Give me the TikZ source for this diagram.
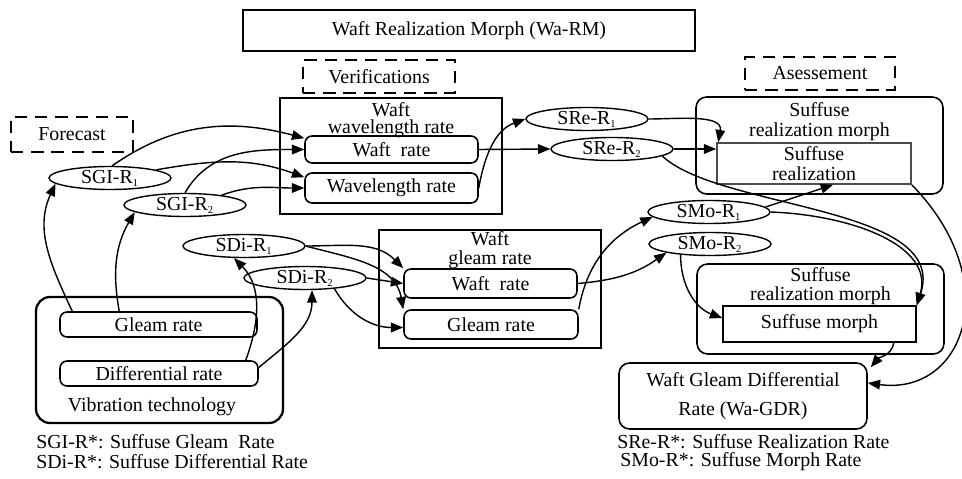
\documentclass[tikz,border=0pt]{standalone}
\usepackage{fontspec}
\setmainfont{Liberation Serif}
\usetikzlibrary{shapes.geometric,arrows.meta,positioning,calc}

\newcommand{\rsub}[1]{\textsubscript{\fontsize{6}{6}\selectfont #1}}

\begin{document}
\begin{tikzpicture}[
    x=0.02cm, y=0.02cm,
    font=\fontsize{11.3}{13}\selectfont,
    box/.style={draw, line width=0.9pt, inner sep=0pt, align=center},
    rbox/.style={box, rounded corners=4pt},
    dbox/.style={draw, line width=1pt, dash pattern=on 7pt off 4.5pt, inner sep=0pt},
    ell/.style={draw, ellipse, line width=0.8pt, inner sep=0pt, minimum width=2.44cm, minimum height=0.46cm},
    ttl/.style={align=center, inner sep=0pt, font=\fontsize{11.3}{10}\selectfont},
    arrow/.style={-{Triangle[length=7pt,width=5.5pt]}, line width=0.8pt}
]
  \useasboundingbox (0,0) rectangle (962,-479);

  % =========================================================================
  % TITLE AND PHASES
  % =========================================================================
  \node[box, minimum width=9.04cm, minimum height=0.82cm] (n_wrm) at (469,-30.5) {Waft Realization Morph (Wa-RM)};
  \node[dbox, minimum width=3.04cm, minimum height=0.66cm] (n_ver) at (379,-76.5) {Verifications};
  \node[dbox, minimum width=2.44cm, minimum height=0.7cm] (n_for) at (72,-134.5) {Forecast};
  \node[dbox, minimum width=3.0cm, minimum height=0.66cm] (n_ase) at (820,-73.5) {Asessement};

  % =========================================================================
  % VIBRATION TECHNOLOGY
  % =========================================================================
  \node[rbox, rounded corners=8pt, line width=1.3pt, minimum width=4.94cm, minimum height=2.52cm] (p_vib) at (159.5,-360) {};
  \node[rbox, minimum width=3.94cm, minimum height=0.5cm] (n_vgr) at (158.5,-324.5) {Gleam rate};
  \node[rbox, minimum width=3.96cm, minimum height=0.5cm] (n_vdr) at (159,-373.5) {Differential rate};
  \node[inner sep=0pt] (t_vib) at (152,-407) {Vibration technology};

  % =========================================================================
  % WAFT BOXES
  % =========================================================================
  \node[box, minimum width=4.44cm, minimum height=2.32cm] (p_wwr) at (391,-156) {};
  \node[ttl] (t_wwr) at (391,-120) {Waft\\wavelength rate};
  \node[rbox, minimum width=3.46cm, minimum height=0.54cm] (n_wwr_w) at (391.5,-149.5) {Waft\ \ rate};
  \node[rbox, minimum width=3.46cm, minimum height=0.6cm] (n_wwr_l) at (391.5,-188) {Wavelength rate};

  \node[box, minimum width=4.44cm, minimum height=2.36cm] (p_wgr) at (490,-289) {};
  \node[ttl, font=\fontsize{11.3}{11}\selectfont] (t_wgr) at (490,-250) {Waft\\gleam rate};
  \node[rbox, minimum width=3.46cm, minimum height=0.58cm] (n_wgr_w) at (490.5,-283.5) {Waft\ \ rate};
  \node[rbox, minimum width=3.48cm, minimum height=0.58cm] (n_wgr_g) at (491,-324.5) {Gleam rate};

  % =========================================================================
  % SUFFUSE BOXES
  % =========================================================================
  \node[rbox, rounded corners=6pt, minimum width=4.94cm, minimum height=1.94cm] (p_srm1) at (819.5,-145.5) {};
  \node[ttl, font=\fontsize{11.3}{11.5}\selectfont] (t_srm1) at (819.5,-122) {Suffuse\\realization morph};
  \node[box, draw=gray!60!black, minimum width=3.88cm, minimum height=0.82cm, font=\fontsize{11.3}{11.5}\selectfont] (n_sr) at (814,-163.5) {Suffuse\\realization};

  \node[rbox, rounded corners=6pt, minimum width=4.94cm, minimum height=1.8cm] (p_srm2) at (820.5,-309) {};
  \node[ttl, font=\fontsize{11.3}{10.5}\selectfont] (t_srm2) at (820.5,-286) {Suffuse\\realization morph};
  \node[box, minimum width=3.86cm, minimum height=0.72cm] (n_sm) at (819.5,-324) {Suffuse morph};

  \node[rbox, rounded corners=6pt, minimum width=4.96cm, minimum height=1.32cm, font=\fontsize{11.3}{16.5}\selectfont] (n_gdr) at (743,-396) {Waft Gleam Differential\\Rate (Wa-GDR)};

  % =========================================================================
  % RATES
  % =========================================================================
  \node[ell] (e_sgi1) at (110,-178) {SGI-R\rsub{1}};
  \node[ell] (e_sgi2) at (185,-205) {SGI-R\rsub{2}};
  \node[ell] (e_sdi1) at (244,-246) {SDi-R\rsub{1}};
  \node[ell] (e_sdi2) at (305,-278) {SDi-R\rsub{2}};
  \node[ell] (e_sre1) at (587,-119) {SRe-R\rsub{1}};
  \node[ell] (e_sre2) at (612,-149) {SRe-R\rsub{2}};
  \node[ell] (e_smo1) at (709,-212) {SMo-R\rsub{1}};
  \node[ell] (e_smo2) at (710,-244) {SMo-R\rsub{2}};

  % Legends
  \node[anchor=west, inner sep=0pt] (l_sgi) at (36,-442) {SGI-R*: Suffuse Gleam\ \ Rate};
  \node[anchor=west, inner sep=0pt] (l_sdi) at (36,-462) {SDi-R*: Suffuse Differential Rate};
  \node[anchor=west, inner sep=0pt] (l_sre) at (617,-442) {SRe-R*: Suffuse Realization Rate};
  \node[anchor=west, inner sep=0pt] (l_smo) at (620,-462) {SMo-R*: Suffuse Morph Rate};

  % =========================================================================
  % CONNECTORS
  % =========================================================================
  % Vibration -> SGI
  \draw[arrow] ([xshift=0.26cm]n_vgr.north west) to[out=115,in=-115] (e_sgi1.186);
  \draw[arrow] ([xshift=1.2cm]n_vgr.north west) to[out=100,in=-120] (e_sgi2.188);
  % SGI -> Waft wavelength rate
  \draw[arrow] (e_sgi1.80) to[out=35,in=165] ([yshift=-0.06cm]n_wwr_w.north west);
  \draw[arrow] (e_sgi1.10) to[out=10,in=160] ([yshift=-0.1cm]n_wwr_l.north west);
  \draw[arrow] (e_sgi2.north) to[out=60,in=180] (n_wwr_w.west);
  \draw[arrow] (e_sgi2.15) to[out=20,in=180] (n_wwr_l.west);
  % Waft wavelength rate -> SRe
  \draw[arrow] (n_wwr_l.east) to[out=80,in=-160] (e_sre1.west);
  \draw[arrow] (n_wwr_w.east) -- (e_sre2.west);
  % SRe -> Suffuse
  \draw[arrow] (e_sre1.east) to[out=0,in=80] ([xshift=0.04cm]n_sr.north west);
  \draw[arrow] (e_sre2.east) -- (e_sre2.east -| n_sr.west);
  \draw[arrow] (e_sre2.-8) .. controls +(58,-54) and +(33,100) .. (n_sm.north east);
  % SMo -> Suffuse
  \draw[arrow] (e_smo1.east) .. controls +(80,-3) and +(18,60) .. (n_sm.north east);
  \draw[arrow] (e_smo1.5) -- ([xshift=0.38cm]n_sr.south);
  \draw[arrow] (e_smo2.200) to[out=-90,in=160] ([yshift=0.12cm]n_sm.west);
  % Vibration -> SDi
  \draw[arrow] ([xshift=-0.26cm]n_vdr.north east) to[out=70,in=-45] ([xshift=-0.2cm]e_sdi1.south);
  \draw[arrow] ([yshift=0.12cm]n_vdr.east) to[out=40,in=-90] ([xshift=0.14cm]e_sdi2.south);
  % SDi -> Waft gleam rate
  \draw[arrow] (e_sdi1.east) to[out=0,in=135] (n_wgr_w.north west);
  \draw[arrow] (e_sdi1.east) to[out=-15,in=100] (n_wgr_g.north west);
  \draw[arrow] (e_sdi2.east) -- (n_wgr_w.west);
  \draw[arrow] (e_sdi2.-20) to[out=-60,in=180] ([yshift=-0.06cm]n_wgr_g.west);
  % Waft gleam rate -> SMo
  \draw[arrow] (n_wgr_g.north east) to[out=80,in=-155] (e_smo1.185);
  \draw[arrow] (n_wgr_w.east) to[out=5,in=-145] (e_smo2.south west);
  % Suffuse -> Wa-GDR
  \draw[arrow] ([xshift=-0.46cm]n_sm.south east) to[out=-100,in=50] ([xshift=0.06cm,yshift=-0.1cm]n_gdr.north east);
  \draw[arrow] (n_sr.south east) .. controls +(94,-96) and +(97,-13) .. ([yshift=0.26cm]n_gdr.east);

\end{tikzpicture}
\end{document}
